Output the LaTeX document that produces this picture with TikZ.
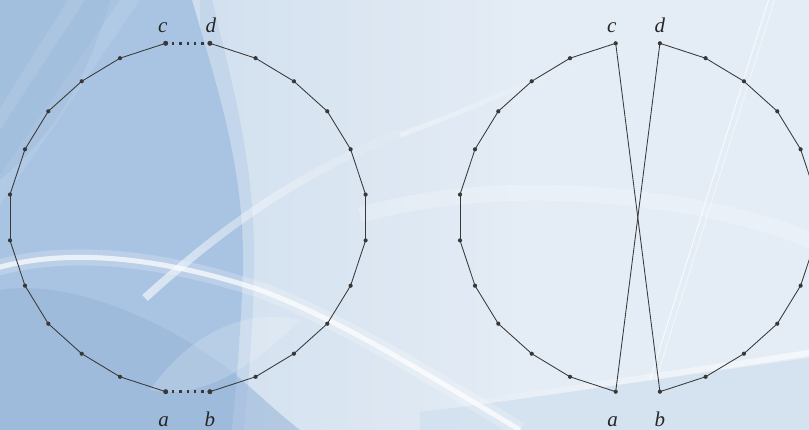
\documentclass[tikz,border=0pt]{standalone}
\usepackage{fontspec}
\setmainfont{Liberation Serif}
\usetikzlibrary{fadings}
\definecolor{bgL}{HTML}{A9C4E2}
\definecolor{bgM}{HTML}{D2E0EF}
\definecolor{bgR}{HTML}{E4ECF5}
\definecolor{bgD}{HTML}{97B4D7}
\definecolor{ink}{HTML}{383838}
\tikzfading[name=fadeout, left color=transparent!0, right color=transparent!100]
\tikzfading[name=fadein, left color=transparent!100, right color=transparent!0]
\tikzset{
  vtx/.style={circle, fill=ink, inner sep=0pt, minimum size=4.2pt},
  bigvtx/.style={circle, fill=ink, inner sep=0pt, minimum size=5pt},
  edge/.style={draw=ink, line width=0.85pt},
  dotedge/.style={draw=ink, line width=2.6pt, dash pattern=on 2.4pt off 4.98pt, dash phase=1.2pt},
  lbl/.style={font=\fontsize{21}{24}\selectfont\itshape, text=black!85, inner sep=0pt, anchor=base},
  glow/.style={white, line cap=butt}
}
\begin{document}
\begin{tikzpicture}[x=1pt,y=1pt]
\useasboundingbox (0,0) rectangle (809,430);
\begin{scope}
\clip (0,0) rectangle (809,430);
% ---------- background ----------
\fill[bgR] (0,0) rectangle (809,430);
\shade[left color=bgM, right color=bgR] (200,0) rectangle (520,430);
% left blue region
\fill[bgL] (0,430) -- (192,430) .. controls (218,340) and (245,260) .. (243,160)
   .. controls (241,100) and (236,40) .. (232,0) -- (0,0) -- cycle;
% soft transition band right of the edge
\fill[bgL, opacity=0.35] (192,430) .. controls (218,340) and (245,260) .. (243,160)
   .. controls (241,100) and (236,40) .. (232,0) -- (244,0)
   .. controls (248,40) and (253,100) .. (254,160)
   .. controls (256,260) and (234,340) .. (212,430) -- cycle;
% lighter streaks at the top left
\fill[white, opacity=0.13] (0,322) -- (68,430) -- (85,430) -- (0,300) -- cycle;
\fill[white, opacity=0.09] (0,255) -- (120,430) -- (140,430) -- (0,225) -- cycle;
% darker wave at the bottom left
\fill[bgD, opacity=0.55] (0,0) -- (0,140) .. controls (60,150) and (150,120) .. (230,60)
   .. controls (260,35) and (280,15) .. (300,0) -- cycle;
\fill[bgD, opacity=0.30] (0,250) .. controls (60,300) and (90,360) .. (110,430) -- (0,430) -- cycle;
\fill[white, opacity=0.18] (150,40) .. controls (200,30) and (250,60) .. (300,110)
   .. controls (260,120) and (200,110) .. (150,40) -- cycle;
% lower right bluish wedge
\fill[bgM, opacity=0.8] (420,0) -- (809,0) -- (809,72) .. controls (650,50) and (520,30) .. (420,18) -- cycle;
% white sweeping curve
\draw[glow, line width=16pt, opacity=0.22] (-10,160) .. controls (70,185) and (170,170) .. (260,140)
   .. controls (340,110) and (420,60) .. (520,0);
\draw[glow, line width=5pt, opacity=0.7] (-10,160) .. controls (70,185) and (170,170) .. (260,140)
   .. controls (340,110) and (420,60) .. (520,0);
% diagonal streak
\draw[glow, line width=8pt, opacity=0.6, path fading=fadeout] (145,132) .. controls (220,200) and (300,260) .. (420,305);
\draw[glow, line width=5pt, opacity=0.35, path fading=fadeout] (400,295) .. controls (470,320) and (530,350) .. (600,375);
% faint band on the right
\draw[glow, line width=16pt, opacity=0.22] (360,215) .. controls (450,240) and (560,245) .. (680,225)
   .. controls (740,215) and (790,200) .. (820,185);
% thin lines on the right
\draw[glow, line width=0.9pt, opacity=0.8] (770,435) -- (650,50);
\draw[glow, line width=0.9pt, opacity=0.55] (776,435) -- (656,50);
% bottom right white band
\draw[glow, line width=6pt, opacity=0.65, path fading=fadein] (425,20) .. controls (560,40) and (700,60) .. (815,78);
% ---------- polygons ----------
\foreach \dx/\dy [count=\i] in {-22.1/174.2,-67.8/159.3,-106.1/136.2,-139.5/106.2,-162.8/68.2,-177.8/22.9,
  -177.8/-22.9,-162.8/-68.2,-139.5/-106.2,-106.1/-136.2,-67.8/-159.3,-22.1/-174.2} {
  \pgfmathtruncatemacro\j{25-\i}
  \node[vtx] (L\i) at (187.8+\dx,212.5+\dy) {};
  \node[vtx] (L\j) at (187.8-\dx,212.5+\dy) {};
  \node[vtx] (R\i) at (637.8+\dx,212.5+\dy) {};
  \node[vtx] (R\j) at (637.8-\dx,212.5+\dy) {};
}
\foreach \i in {1,12,13,24} { \node[bigvtx] at (L\i) {}; }
\foreach \i in {1,...,11,13,14,...,23} {
  \pgfmathtruncatemacro\j{\i+1}
  \draw[edge] (L\i.center) -- (L\j.center);
  \draw[edge] (R\i.center) -- (R\j.center);
}
\draw[dotedge] (L1.center) -- (L24.center);
\draw[dotedge] (L12.center) -- (L13.center);
\draw[edge] (R1.center) -- (R13.center);
\draw[edge] (R24.center) -- (R12.center);
% ---------- labels ----------
\node[lbl] (lc) at ([xshift=-3pt,yshift=10.3pt]L1.center) {c};
\node[lbl] (ld) at ([xshift=1pt,yshift=10.3pt]L24.center) {d};
\node[lbl] (la) at ([xshift=-2pt,yshift=-35pt]L12.center) {a};
\node[lbl] (lb) at ([xshift=0pt,yshift=-35pt]L13.center) {b};
\node[lbl] (rc) at ([xshift=-4pt,yshift=10.3pt]R1.center) {c};
\node[lbl] (rd) at ([xshift=0pt,yshift=10.3pt]R24.center) {d};
\node[lbl] (ra) at ([xshift=-3pt,yshift=-35pt]R12.center) {a};
\node[lbl] (rb) at ([xshift=0pt,yshift=-35pt]R13.center) {b};
\end{scope}
\end{tikzpicture}
\end{document}
